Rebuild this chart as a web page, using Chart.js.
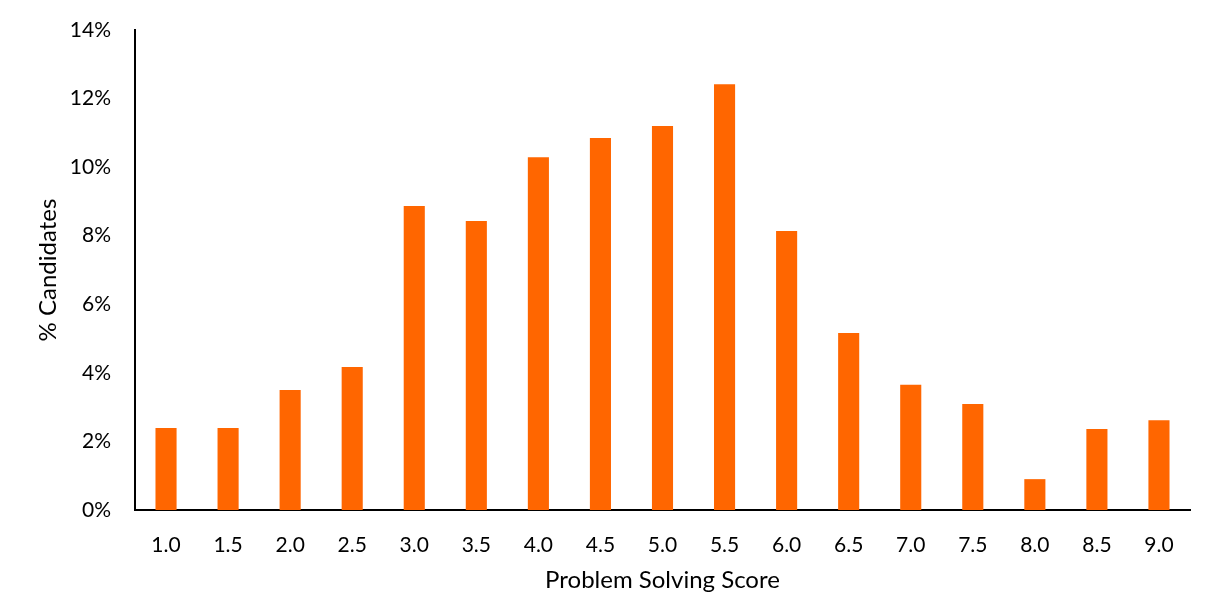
<!DOCTYPE html>
<html>
<head>
<meta charset="utf-8">
<script src="https://cdn.jsdelivr.net/npm/chart.js@4"></script>
<style>
  html, body { margin: 0; padding: 0; background: #fff; }
  #wrap { width: 1218px; height: 599px; }
</style>
</head>
<body>
<div id="wrap"><canvas id="scoreChart" width="1218" height="599"></canvas></div>
<script>
const scores = ['1.0', '1.5', '2.0', '2.5', '3.0', '3.5', '4.0', '4.5', '5.0', '5.5', '6.0', '6.5', '7.0', '7.5', '8.0', '8.5', '9.0'];
const pctCandidates = [2.39, 2.39, 3.50, 4.17, 8.87, 8.43, 10.29, 10.85, 11.20, 12.42, 8.14, 5.16, 3.65, 3.09, 0.90, 2.36, 2.62];
const yTicks = [0, 2, 4, 6, 8, 10, 12, 14];

const font = 'Lato, "Open Sans", sans-serif';

new Chart(document.getElementById('scoreChart'), {
  type: 'bar',
  data: {
    labels: scores,
    datasets: [{
      label: '% Candidates',
      data: pctCandidates,
      backgroundColor: '#ff6600',
      barPercentage: 0.34,
      categoryPercentage: 1
    }]
  },
  options: {
    responsive: false,
    animation: false,
    layout: { padding: { left: 30, right: 28, top: 30, bottom: 0 } },
    plugins: { legend: { display: false }, tooltip: { enabled: false } },
    scales: {
      x: {
        grid: { display: false, drawTicks: false },
        border: { color: '#000', width: 2 },
        ticks: { color: '#000', font: { family: font, size: 21 }, padding: 23, maxRotation: 0 },
        title: { display: true, text: 'Problem Solving Score', color: '#000', font: { family: font, size: 24 }, padding: { top: 15 } },
        afterFit: scale => { scale.height = 89; }
      },
      y: {
        min: 0,
        max: 14,
        grid: { display: false, drawTicks: false },
        border: { color: '#000', width: 2 },
        afterBuildTicks: scale => { scale.ticks = yTicks.map(v => ({ value: v })); },
        ticks: { color: '#000', font: { family: font, size: 21 }, padding: 24, callback: v => v + '%' },
        title: { display: true, text: '% Candidates', color: '#000', font: { family: font, size: 24 }, padding: { bottom: 10 } },
        afterFit: scale => {
          scale.width = 105;
          scale.paddingTop = 0;
          scale.paddingBottom = 0;
        }
      }
    }
  }
});
</script>
</body>
</html>
